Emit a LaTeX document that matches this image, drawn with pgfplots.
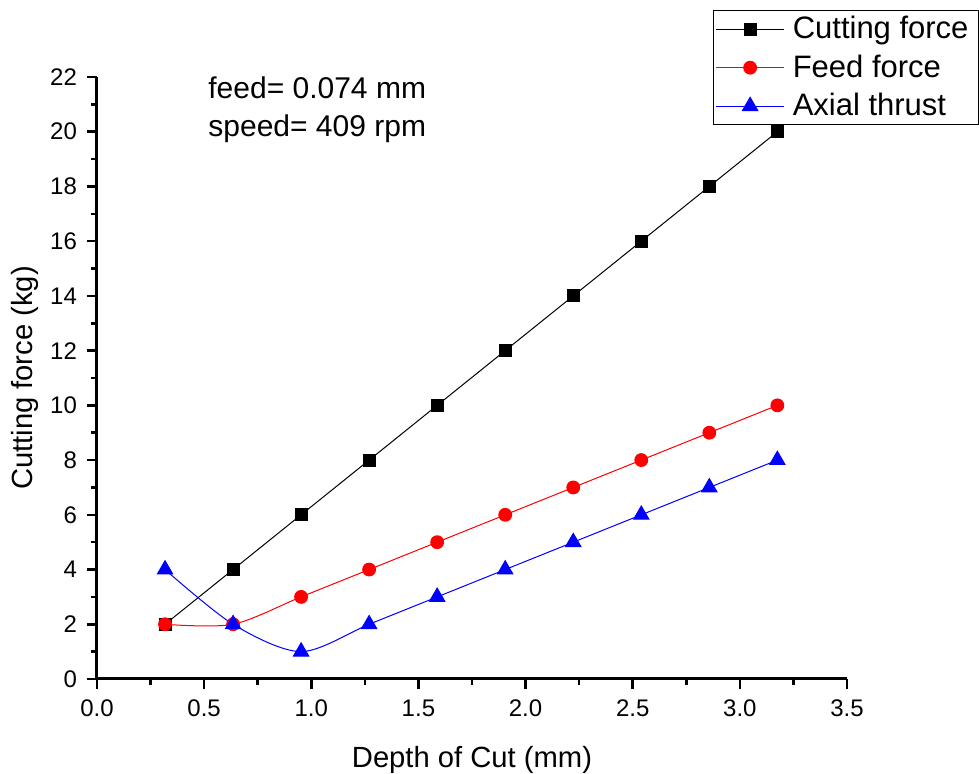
\documentclass[border=0pt]{standalone}
\usepackage{pgfplots}
\pgfplotsset{compat=1.18}
\usepackage{fontspec}
\setmainfont{Liberation Sans}
\begin{document}
\begin{tikzpicture}
\useasboundingbox (-48.5pt,-47.5pt) rectangle (441pt,339.5pt);
\begin{axis}[
  scale only axis,
  width=375pt, height=301pt,
  xmin=0, xmax=3.5, ymin=0, ymax=22,
  axis x line*=bottom, axis y line*=left,
  axis line style={line width=1.5pt,-},
  tick align=outside,
  major tick length=5pt, minor tick length=3pt,
  every tick/.style={line width=1.3pt,black},
  xtick={0,0.5,...,3.5}, minor xtick={0.25,0.75,...,3.25},
  ytick={0,2,...,22}, minor ytick={1,3,...,21},
  xticklabel style={/pgf/number format/fixed,/pgf/number format/fixed zerofill,/pgf/number format/precision=1, yshift=-2pt},
  yticklabel style={xshift=-1.5pt},
  /pgf/number format/assume math mode=true,
  tick label style={font=\fontsize{12}{14}\selectfont},
  label style={font=\fontsize{14.6}{17}\selectfont},
  xlabel={Depth of Cut (mm)},
  ylabel={Cutting force (kg)},
  xlabel style={at={(axis description cs:0.5,-0.1462)}, anchor=base},
  ylabel style={at={(axis description cs:-0.096,0.5)}, anchor=center},
  legend style={at={(rel axis cs:0.8213,1.1113)}, anchor=north west,
    font=\fontsize{15.5}{18}\selectfont, draw=black, line width=0.5pt,
    inner xsep=1pt, inner ysep=1pt, row sep=2.5pt, cells={anchor=west},
    nodes={inner xsep=4pt}},
  legend image code/.code={\draw[mark repeat=2,mark phase=2] plot coordinates {(0cm,0cm) (0.6cm,0cm) (1.2cm,0cm)};},
  legend cell align=left,
  clip=false,
]
\addplot[black, line width=0.5pt, smooth, mark=square*, mark size=3pt, mark options={solid,fill=black}]
coordinates {(0.3175,2) (0.635,4) (0.9525,6) (1.27,8) (1.5875,10) (1.905,12) (2.2225,14) (2.54,16) (2.8575,18) (3.175,20)};
\addlegendentry{Cutting force}
\addplot[red, line width=0.5pt, smooth, mark=*, mark size=3.2pt, mark options={solid,fill=red,draw=red}]
coordinates {(0.3175,2) (0.635,2) (0.9525,3) (1.27,4) (1.5875,5) (1.905,6) (2.2225,7) (2.54,8) (2.8575,9) (3.175,10)};
\addlegendentry{Feed force}
\addplot[blue, line width=0.5pt, smooth, mark=triangle*, mark size=4.4pt, mark options={solid,fill=blue,draw=blue}]
coordinates {(0.3175,4) (0.635,2) (0.9525,1) (1.27,2) (1.5875,3) (1.905,4) (2.2225,5) (2.54,6) (2.8575,7) (3.175,8)};
\addlegendentry{Axial thrust}
\node[anchor=base west, font=\fontsize{15}{18}\selectfont, inner sep=0pt] at (axis cs:0.518,21.23) {feed= 0.074 mm};
\node[anchor=base west, font=\fontsize{15}{18}\selectfont, inner sep=0pt] at (axis cs:0.518,19.81) {speed= 409 rpm};
\end{axis}
\end{tikzpicture}
\end{document}
